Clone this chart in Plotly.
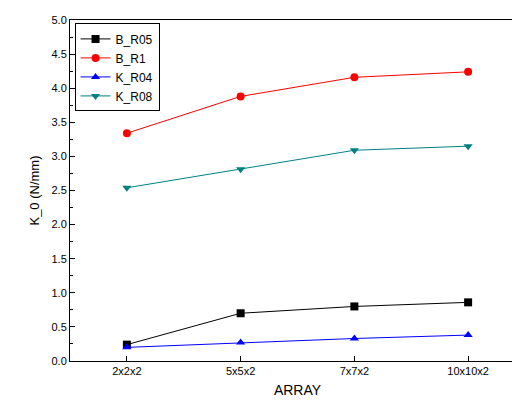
import plotly.graph_objects as go

categories = ["2x2x2", "5x5x2", "7x7x2", "10x10x2"]
b_r05 = [0.24, 0.70, 0.80, 0.86]
b_r1 = [3.34, 3.88, 4.16, 4.24]
k_r04 = [0.20, 0.27, 0.33, 0.38]
k_r08 = [2.54, 2.81, 3.09, 3.15]

series = [
    ("B_R05", b_r05, "black", "square"),
    ("B_R1", b_r1, "red", "circle"),
    ("K_R04", k_r04, "blue", "triangle-up"),
    ("K_R08", k_r08, "#008080", "triangle-down"),
]

fig = go.Figure()
for name, vals, color, sym in series:
    fig.add_trace(go.Scatter(
        x=list(range(len(categories))), y=vals, name=name, mode="lines+markers",
        line=dict(color=color, width=1), marker=dict(color=color, symbol=sym, size=8),
    ))

axis_common = dict(showline=True, linecolor="black", linewidth=1, mirror=True,
                   showgrid=False, zeroline=False, ticks="inside", ticklen=5,
                   tickcolor="black", tickfont=dict(size=11, color="black"))

fig.update_xaxes(**axis_common, range=[-0.5, 3.5], tickvals=list(range(4)),
                 ticktext=categories, title=dict(text="ARRAY", font=dict(size=14), standoff=8))
fig.update_yaxes(**axis_common, range=[0, 5], dtick=0.5, tickformat=".1f",
                 minor=dict(ticks="inside", ticklen=3, dtick=0.25, tickcolor="black"),
                 title=dict(text="K_0 (N/mm)", font=dict(size=13), standoff=8))

fig.update_layout(
    width=520, height=403, margin=dict(l=62, r=3, t=12, b=50),
    plot_bgcolor="white", paper_bgcolor="white",
    font=dict(family="Arial, Liberation Sans, sans-serif", color="black"),
    legend=dict(x=0.01, y=0.99, xanchor="left", yanchor="top", bordercolor="black",
                borderwidth=1, bgcolor="white", font=dict(size=12), tracegroupgap=0),
)

fig.write_html("out.html")
